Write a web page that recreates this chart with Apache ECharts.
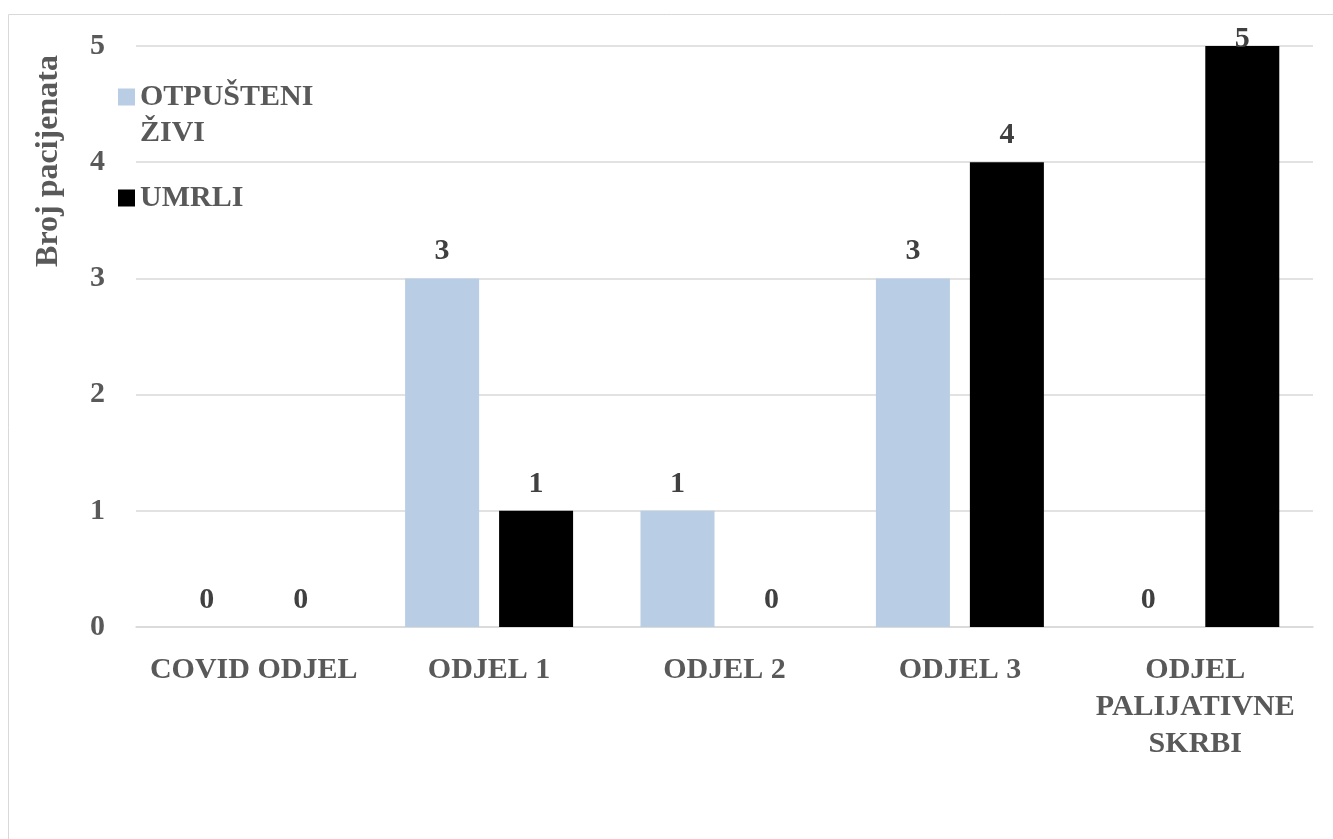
<!DOCTYPE html>
<html>
<head>
<meta charset="utf-8">
<script src="https://cdn.jsdelivr.net/npm/echarts@6/dist/echarts.min.js"></script>
<style>
html,body{margin:0;padding:0;background:#fff;}
#chart{width:1333px;height:839px;}
</style>
</head>
<body>
<div id="chart"></div>
<script>
const categories = ['COVID ODJEL', 'ODJEL 1', 'ODJEL 2', 'ODJEL 3', 'ODJEL\nPALIJATIVNE\nSKRBI'];
const otpusteniZivi = [0, 3, 1, 3, 0];
const umrli = [0, 1, 0, 4, 5];
const seriesNames = ['OTPUŠTENI ŽIVI', 'UMRLI'];
const yTicks = [0, 1, 2, 3, 4, 5];
const yTitle = 'Broj pacijenata';

const FONT = '"Liberation Serif", "DejaVu Serif", serif';
const FS = 30;
const yMax = yTicks[yTicks.length - 1];
const chart = echarts.init(document.getElementById('chart'), null, {renderer: 'canvas'});

const labelCfg = {
  show: true, position: 'top', distance: 12,
  color: '#404040', fontFamily: FONT, fontWeight: 'bold', fontSize: FS
};
// a label that would leave the plot area is pushed down onto the bar top, as in the reference
function withLabels(arr) {
  return arr.map(v => v === yMax ? {value: v, label: {distance: -8}} : v);
}

chart.setOption({
  backgroundColor: '#fff',
  animation: false,
  graphic: [
    {type: 'rect', shape: {x: 8.5, y: 14.5, width: 1340, height: 840},
     style: {fill: 'none', stroke: '#d9d9d9', lineWidth: 1}, silent: true},
    {type: 'text', x: 49, y: 161, rotation: Math.PI / 2,
     style: {text: yTitle, fill: '#595959', font: 'bold 32px ' + FONT,
             align: 'center', verticalAlign: 'middle'}}
  ],
  legend: [
    {
      data: [seriesNames[0]], left: 118, top: 100 - 54, orient: 'vertical', padding: 0,
      itemWidth: 17, itemHeight: 17, itemGap: 0, icon: 'rect',
      formatter: function () { return '{e| }\n{a|OTPUŠTENI}\n{a|ŽIVI}'; },
      textStyle: {
        color: '#595959', fontFamily: FONT, fontWeight: 'bold', fontSize: FS,
        rich: {
          e: {lineHeight: 36, fontSize: FS, fontFamily: FONT},
          a: {lineHeight: 36, fontSize: FS, fontFamily: FONT, fontWeight: 'bold', color: '#595959'}
        }
      }
    },
    {
      data: [seriesNames[1]], left: 118, top: 201 - 18, orient: 'vertical', padding: 0,
      itemWidth: 17, itemHeight: 17, icon: 'rect',
      formatter: function () { return '{a|UMRLI}'; },
      textStyle: {
        color: '#595959', fontFamily: FONT, fontWeight: 'bold', fontSize: FS,
        rich: {a: {lineHeight: 36, fontSize: FS, fontFamily: FONT, fontWeight: 'bold', color: '#595959'}}
      }
    }
  ],
  grid: {left: 136, right: 20, top: 46, bottom: 212, containLabel: false},
  xAxis: {
    type: 'category', data: categories,
    axisLine: {show: true, lineStyle: {color: '#d9d9d9', width: 1.5}},
    axisTick: {show: false},
    axisLabel: {
      interval: 0, margin: 25, color: '#595959', fontFamily: FONT,
      fontWeight: 'bold', fontSize: FS, lineHeight: 37, verticalAlign: 'top'
    }
  },
  yAxis: {
    type: 'value', min: yTicks[0], max: yMax, interval: 1,
    axisLine: {show: false}, axisTick: {show: false},
    splitLine: {lineStyle: {color: '#d9d9d9', width: 1.5}},
    axisLabel: {margin: 31, color: '#595959', fontFamily: FONT, fontWeight: 'bold', fontSize: FS}
  },
  series: [
    {name: seriesNames[0], type: 'bar', data: withLabels(otpusteniZivi), barWidth: 74, barGap: '27%',
     itemStyle: {color: '#B9CDE5'}, label: labelCfg},
    {name: seriesNames[1], type: 'bar', data: withLabels(umrli), barWidth: 74, barGap: '27%',
     itemStyle: {color: '#000000'}, label: labelCfg}
  ]
});
</script>
</body>
</html>
